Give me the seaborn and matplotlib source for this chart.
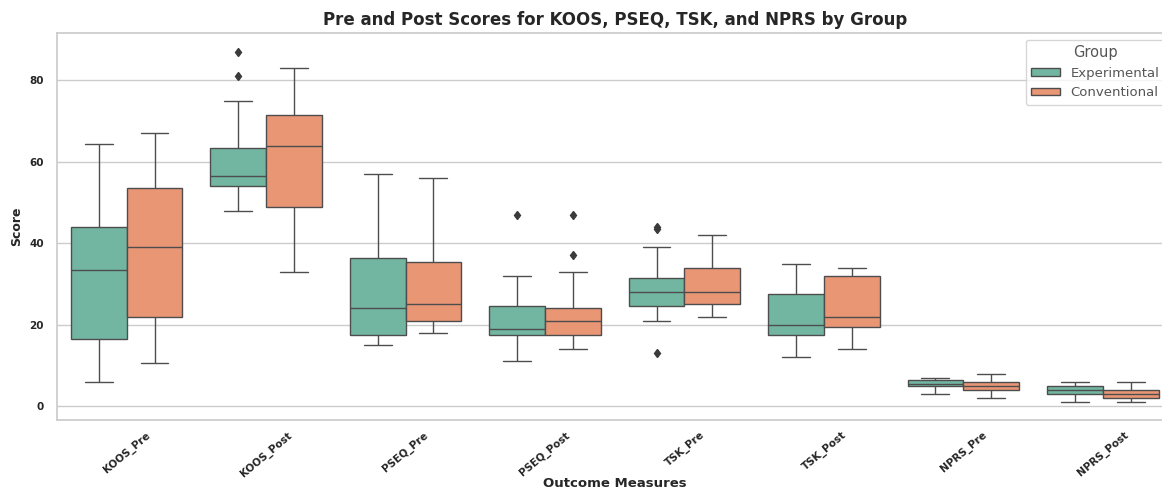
import matplotlib
matplotlib.use("Agg")
import matplotlib.pyplot as plt
import seaborn as sns
import pandas as pd

measures = ["KOOS_Pre", "KOOS_Post", "PSEQ_Pre", "PSEQ_Post",
            "TSK_Pre", "TSK_Post", "NPRS_Pre", "NPRS_Post"]
groups = ["Experimental", "Conventional"]

# Experimental group scores
exp_koos_pre = [6, 10, 13, 16.5, 22, 28, 33.5, 37, 41, 44, 50, 58, 64.5]
exp_koos_post = [48, 51, 53, 54, 55, 56, 56.5, 59, 62, 63.5, 75, 81, 87]
exp_pseq_pre = [15, 16, 17, 17.5, 20, 22, 24, 28, 33, 36.5, 44, 51, 57]
exp_pseq_post = [11, 14, 16, 17.5, 18, 18.5, 19, 21, 23, 24.5, 28, 32, 47]
exp_tsk_pre = [13, 21, 23, 24.5, 26, 27, 28, 29, 30, 31.5, 39, 43.5, 44]
exp_tsk_post = [12, 14, 16, 17.5, 18, 19, 20, 22, 25, 27.5, 30, 33, 35]
exp_nprs_pre = [3, 4, 4.5, 5, 5, 5.5, 5.5, 6, 6, 6.5, 7, 7, 7]
exp_nprs_post = [1, 2, 2.5, 3, 3.5, 4, 4, 4, 4.5, 5, 5.5, 6, 6]

# Conventional group scores
con_koos_pre = [10.5, 15, 19, 22, 28, 34, 39, 44, 49, 53.5, 58, 63, 67]
con_koos_post = [33, 40, 45, 49, 54, 60, 64, 67, 70, 71.5, 76, 80, 83]
con_pseq_pre = [18, 19, 20, 21, 22, 24, 25, 28, 32, 35.5, 42, 50, 56]
con_pseq_post = [14, 15, 16, 17.5, 19, 20, 21, 22, 23, 24, 33, 37, 47]
con_tsk_pre = [22, 23, 24, 25, 26, 27, 28, 30, 32, 34, 36, 39, 42]
con_tsk_post = [14, 16, 18, 19.5, 20, 21, 22, 25, 29, 32, 33, 33.5, 34]
con_nprs_pre = [2, 3, 3.5, 4, 4.5, 5, 5, 5, 5.5, 6, 7, 7.5, 8]
con_nprs_post = [1, 1, 1.5, 2, 2.5, 3, 3, 3, 3.5, 4, 5, 5.5, 6]

exp_data = [exp_koos_pre, exp_koos_post, exp_pseq_pre, exp_pseq_post,
            exp_tsk_pre, exp_tsk_post, exp_nprs_pre, exp_nprs_post]
con_data = [con_koos_pre, con_koos_post, con_pseq_pre, con_pseq_post,
            con_tsk_pre, con_tsk_post, con_nprs_pre, con_nprs_post]

rows = []
for m, ev, cv in zip(measures, exp_data, con_data):
    for v in ev:
        rows.append({"Outcome Measures": m, "Score": v, "Group": groups[0]})
    for v in cv:
        rows.append({"Outcome Measures": m, "Score": v, "Group": groups[1]})
df = pd.DataFrame(rows)

sns.set_theme(style="whitegrid")
plt.rcParams["font.family"] = ["DejaVu Sans"]

fig = plt.figure(figsize=(11.62, 4.95), dpi=100)
ax = fig.add_axes([0.049, 0.1515, 0.960, 0.7815])

sns.boxplot(data=df, x="Outcome Measures", y="Score", hue="Group",
            order=measures, hue_order=groups, palette="Set2", ax=ax,
            linecolor="#4d4d4d",
            flierprops=dict(marker="d", markerfacecolor="#3a3a3a",
                            markeredgecolor="#3a3a3a", markersize=4.5))

ax.set_ylim(-3.4, 91.6)
ax.set_yticks([0, 20, 40, 60, 80])
ax.set_title("Pre and Post Scores for KOOS, PSEQ, TSK, and NPRS by Group",
             fontsize=12, fontweight="bold", pad=6)
ax.tick_params(axis="x", pad=1)
ax.set_xlabel("Outcome Measures", fontsize=9.5, fontweight="bold", labelpad=-1)
ax.set_ylabel("Score", fontsize=9, fontweight="bold")
for lab in ax.get_xticklabels():
    lab.set_rotation(40)
    lab.set_fontsize(7.5)
    lab.set_fontweight("bold")
for lab in ax.get_yticklabels():
    lab.set_fontsize(7.5)
    lab.set_fontweight("bold")

leg = ax.legend(title="Group", loc="upper right", bbox_to_anchor=(0.999, 1.0),
                fontsize=9.5, title_fontsize=10.5,
                handlelength=2.2, handleheight=0.5)
for t in leg.get_texts():
    t.set_color("#555555")
leg.get_title().set_color("#555555")

fig.savefig("out.png", dpi=100)
